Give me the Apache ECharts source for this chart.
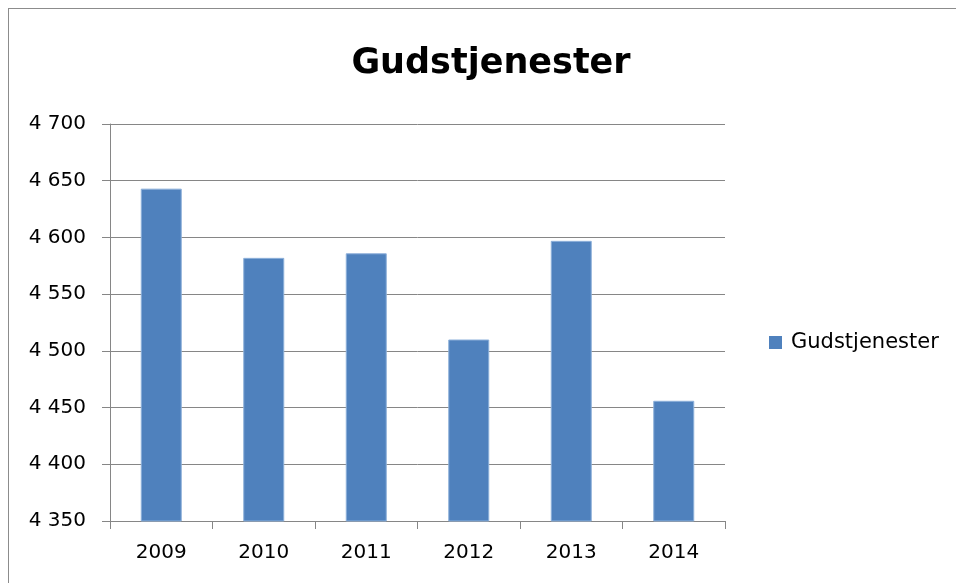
<!DOCTYPE html>
<html>
<head>
<meta charset="utf-8">
<script src="https://cdn.jsdelivr.net/npm/echarts@6/dist/echarts.min.js"></script>
<style>
  html, body { margin: 0; padding: 0; background: #fff; }
  #frame { position: absolute; left: 8px; top: 8px; width: 960px; height: 600px; border: 1px solid #8c8c8c; }
  #chart { position: absolute; left: 0; top: 0; width: 956px; height: 583px; }
</style>
</head>
<body>
<div id="frame"></div>
<div id="chart"></div>
<script>
// år
const years = ["2009", "2010", "2011", "2012", "2013", "2014"];
// antall gudstjenester
const services = [4643, 4582, 4586, 4510, 4597, 4456];
const seriesName = "Gudstjenester";

const chart = echarts.init(document.getElementById("chart"));
const font = "'DejaVu Sans', sans-serif";

const option = {
  animation: false,
  title: {
    text: "Gudstjenester",
    left: 486,
    top: 41,
    textAlign: "center",
    textStyle: { fontFamily: font, fontSize: 35, fontWeight: "bold", color: "#000" }
  },
  legend: {
    data: [seriesName],
    left: 764,
    top: 327,
    itemWidth: 13,
    itemHeight: 13,
    icon: "rect",
    itemStyle: { borderWidth: 0 },
    textStyle: { fontFamily: font, fontSize: 21, color: "#000", padding: [0, 0, 0, 4] }
  },
  grid: { left: 110, right: 231, top: 124, bottom: 62 },
  xAxis: {
    type: "category",
    data: years,
    axisLine: { lineStyle: { color: "#868686", width: 1 } },
    axisTick: { show: true, length: 8, lineStyle: { color: "#868686" } },
    axisLabel: { fontFamily: font, fontSize: 20, color: "#000", margin: 22 }
  },
  yAxis: {
    type: "value",
    min: 4350,
    max: 4700,
    interval: 50,
    axisLine: { show: true, lineStyle: { color: "#868686", width: 1 } },
    axisTick: { show: true, length: 8, lineStyle: { color: "#868686" } },
    axisLabel: {
      fontFamily: font,
      fontSize: 20,
      color: "#000",
      margin: 24,
      formatter: v => String(v).replace(/\B(?=(\d{3})+(?!\d))/g, " ")
    },
    splitLine: { lineStyle: { color: "#868686", width: 1 } }
  },
  series: [
    {
      name: seriesName,
      type: "bar",
      data: services,
      barWidth: "40%",
      itemStyle: { color: "#4F81BD", borderColor: "#8db0da", borderWidth: 1 }
    }
  ]
};

chart.setOption(option);
window.addEventListener("resize", () => {
  if (chart) chart.resize();
});
</script>
</body>
</html>
